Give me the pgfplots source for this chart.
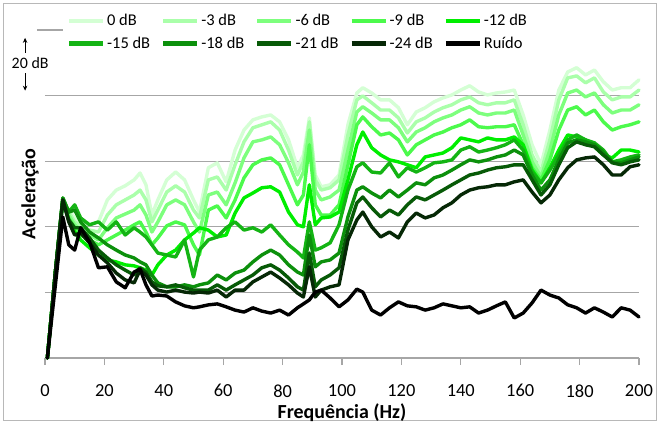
\documentclass[border=0pt]{standalone}
\usepackage{fontspec}
\setmainfont{Carlito}
\usepackage{pgfplots}
\usepackage{pgfplotstable}
\pgfplotsset{compat=1.18}
\usetikzlibrary{arrows.meta}

\definecolor{g0}{HTML}{D4FFD4}
\definecolor{g3}{HTML}{AAFFAA}
\definecolor{g6}{HTML}{7DFF7D}
\definecolor{g9}{HTML}{4CFA4C}
\definecolor{g12}{HTML}{00EE00}
\definecolor{g15}{HTML}{14B414}
\definecolor{g18}{HTML}{0C900C}
\definecolor{g21}{HTML}{075A07}
\definecolor{g24}{HTML}{062806}
\definecolor{gridgray}{HTML}{A6A6A6}

% acceleration level (dB) per excitation level
\pgfplotstableread{
f    a0   a3   a6   a9   a12  a15  a18  a21  a24  r
0.8  0    0    0    0    0    0    0    0    0    0
3.5  26.2 26.2 26.2 26.2 26.2 26.2 26.2 26.2 26.2 22.3
6    48.2 48.2 48.2 48.2 48.2 48.8 48.8 48.2 48.2 43.0
8    45.1 44.5 43.6 42.7 42.1 44.5 44.5 42.1 41.5 34.5
10   42.7 41.5 40.6 39.7 38.4 46.7 45.1 39.7 37.5 32.9
12   41.5 40.3 39.0 37.5 36.0 42.7 41.5 39.7 38.1 39.7
15   40.6 39.0 37.5 36.0 33.6 40.6 38.4 36.6 35.1 35.4
18   41.5 38.4 36.0 34.5 31.4 41.5 36.6 32.9 31.4 27.5
21   48.2 43.6 39.7 36.0 29.9 39.0 34.5 30.5 29.0 27.8
24   51.2 46.7 42.7 37.5 29.3 41.5 32.9 28.4 25.9 23.2
27   52.5 48.2 43.9 39.0 28.4 37.5 31.4 26.8 23.8 21.4
30   54.3 49.7 45.1 40.6 28.1 39.7 30.5 25.3 22.9 26.2
32   56.4 51.2 46.7 41.5 27.5 38.4 29.3 27.5 26.8 27.1
34   52.8 48.2 43.6 38.4 26.8 36.9 28.4 26.2 25.3 22.3
36   43.6 41.5 38.4 34.5 25.3 34.5 25.3 23.2 22.3 18.9
38   48.2 45.1 41.5 36.6 28.4 32.0 22.9 22.0 20.7 19.2
41   54.3 50.6 46.7 40.3 31.4 31.4 21.7 21.7 20.1 18.9
44   56.7 52.5 48.2 41.5 32.9 30.8 21.7 22.3 20.7 17.1
47   54.3 50.6 46.7 40.6 36.0 36.0 22.3 21.4 20.1 15.9
50   48.2 45.1 41.5 34.5 38.1 24.7 21.7 20.7 19.8 15.3
52   44.5 42.7 38.4 31.4 39.7 32.9 22.3 20.7 20.1 15.6
55   58.0 54.3 49.7 45.1 39.0 36.0 22.9 20.7 19.8 16.2
58   59.5 55.2 50.6 46.4 36.9 36.9 25.3 22.3 20.7 16.5
61   53.7 51.2 46.7 42.7 37.5 39.7 23.8 20.7 18.6 15.6
64   63.4 58.9 53.4 48.2 44.2 41.5 25.9 22.3 20.7 14.6
67   69.5 65.9 61.0 54.9 48.8 39.0 26.8 23.8 20.7 14.0
70   72.6 70.2 65.9 58.9 50.3 39.7 29.3 25.3 23.2 15.3
73   73.5 71.1 66.5 60.4 51.9 38.4 31.4 27.5 24.7 14.3
76   74.1 72.0 67.4 61.0 52.2 40.6 32.9 28.4 26.2 13.7
79   72.0 69.5 65.0 58.9 50.6 37.5 31.4 26.8 24.4 14.6
82   66.5 63.4 59.5 52.8 44.5 34.5 28.4 24.4 22.3 13.1
85   58.0 55.8 52.8 46.7 40.6 32.3 26.2 21.7 19.8 15.3
87   61.9 59.8 56.7 49.7 40.0 30.5 25.3 20.7 18.6 16.5
89   73.2 72.0 69.5 65.0 52.8 41.5 37.5 32.0 27.8 17.7
91   55.8 54.3 51.2 46.7 40.6 32.9 27.8 21.7 18.6 20.1
93   52.2 51.2 48.2 43.6 42.7 33.6 29.3 23.8 20.7 20.7
96   52.8 51.9 49.1 43.6 43.0 35.1 29.9 25.3 21.7 18.3
99   55.8 54.3 51.2 46.7 44.5 40.6 32.0 27.5 22.3 15.6
102  71.1 68.0 63.4 58.9 54.3 51.2 43.0 39.0 36.0 17.7
105  80.8 78.7 75.0 71.1 65.0 58.3 51.2 47.3 42.1 21.0
107  82.4 79.9 76.6 73.5 68.9 59.5 52.2 49.1 44.5 20.1
110  80.8 77.8 74.7 70.5 64.1 56.7 50.3 45.8 40.0 14.6
113  78.7 75.6 72.6 68.0 61.9 56.4 48.8 43.0 36.9 13.1
116  78.7 75.6 72.6 68.6 60.4 59.5 51.2 45.1 38.4 15.3
119  76.3 73.2 70.2 66.5 59.8 55.2 49.1 43.6 36.6 17.1
122  71.1 68.6 65.9 61.9 58.9 58.0 51.2 46.7 41.5 15.9
125  75.0 72.0 68.9 65.0 58.0 56.7 53.4 49.1 44.2 15.6
128  76.3 73.2 70.2 66.5 61.3 58.0 52.8 48.2 42.7 14.6
131  78.1 75.0 72.0 68.0 61.9 59.5 54.9 49.7 43.6 15.3
134  79.3 76.3 73.2 68.9 62.5 59.8 55.8 51.2 45.8 16.5
137  80.2 77.2 74.1 70.2 64.1 60.4 57.3 52.8 47.3 15.9
140  81.7 78.7 75.6 71.1 67.1 63.4 58.9 54.3 49.7 15.3
143  83.0 79.6 76.6 72.6 66.5 64.4 60.4 55.8 51.2 15.6
146  81.1 77.8 74.7 70.5 65.9 62.8 59.8 56.4 51.9 13.7
149  80.2 77.2 74.1 70.2 67.1 63.4 60.4 57.3 52.2 14.6
152  80.8 77.8 74.7 70.5 66.5 64.1 61.3 58.0 52.8 15.9
155  81.1 77.8 74.7 70.5 66.5 65.0 61.9 58.3 52.8 17.1
158  81.7 78.7 75.6 71.1 67.4 66.5 63.4 58.9 53.7 12.2
161  74.1 71.1 68.0 65.0 65.0 63.4 61.9 58.9 54.3 13.7
164  65.0 61.9 59.8 58.0 57.3 56.7 55.8 54.3 50.6 16.8
167  58.9 56.7 55.2 54.3 53.4 53.4 51.2 49.7 47.3 20.7
170  69.5 66.5 63.4 60.4 58.0 57.3 54.3 52.8 49.7 19.2
173  81.7 78.7 74.1 69.5 63.4 61.9 60.4 58.9 54.3 18.3
176  87.2 85.4 80.8 75.6 68.0 66.5 65.6 64.1 58.0 16.2
179  88.5 86.0 81.7 76.6 67.4 68.0 66.5 65.9 60.4 15.3
182  86.3 83.9 79.6 74.1 66.5 66.5 65.9 65.0 61.0 13.7
185  87.8 85.4 80.8 75.6 64.4 65.6 65.0 64.4 61.3 15.3
188  84.2 81.1 77.2 72.0 61.9 63.4 62.8 61.9 58.9 14.0
191  81.7 78.7 74.7 69.5 61.0 59.8 59.8 59.5 55.8 12.5
194  82.4 79.6 75.6 70.5 63.4 60.4 59.5 58.9 55.8 15.3
197  82.4 79.6 75.6 71.1 63.4 61.3 60.4 59.8 58.3 14.6
200  84.8 81.7 77.2 72.0 62.8 61.9 61.3 60.4 58.9 12.5
}\accel

\begin{document}
\begin{tikzpicture}
\useasboundingbox (-45bp,-66bp) rectangle (615bp,358bp);
\draw[gridgray!80, line width=1bp] (-41bp,-62bp) rectangle (611bp,354bp);
\begin{axis}[
  scale only axis, width=594bp, height=328bp,
  xmin=0, xmax=200, ymin=0, ymax=100,
  clip=false,
  axis x line*=bottom, axis y line*=left,
  axis line style={-},
  x axis line style={draw=gridgray, line width=1.2bp},
  y axis line style={draw=none},
  xtick={0,20,...,200},
  ytick={20,40,60,80}, yticklabels={},
  ytick style={draw=none},
  xtick style={draw=gridgray, line width=1.2bp},
  tick align=outside, major tick length=7bp,
  ymajorgrids, grid style={gridgray, line width=1.2bp},
  /pgf/number format/assume math mode=true,
  xticklabel style={font=\fontsize{18.5}{20}\selectfont, yshift=-16bp},
  xlabel={Frequência (Hz)}, ylabel={Aceleração},
  label style={font=\bfseries\fontsize{20}{22}\selectfont},
  xlabel style={at={(axis description cs:0.5,0)}, anchor=center, yshift=-55bp},
  ylabel style={at={(axis description cs:-0.0253,0.5)}, anchor=center},
  every axis plot/.append style={line width=3.4bp, line join=round, line cap=round},
  legend columns=5,
  legend cell align=left,
  legend image code/.code={\draw[#1, line width=4.2bp, line cap=butt] (0bp,0bp) -- (34bp,0bp);},
  legend style={at={(rel axis cs:0.035,1.058)}, anchor=north west,
    draw=none, fill=white, inner sep=1bp,
    font=\fontsize{16.5}{18}\selectfont,
    /tikz/row sep=6bp,
    /tikz/every even column/.append style={column sep=9bp}},
]
  \addplot[g0]  table[x=f, y=a0]  {\accel}; \addlegendentry{0 dB}
  \addplot[g3]  table[x=f, y=a3]  {\accel}; \addlegendentry{-3 dB}
  \addplot[g6]  table[x=f, y=a6]  {\accel}; \addlegendentry{-6 dB}
  \addplot[g9]  table[x=f, y=a9]  {\accel}; \addlegendentry{-9 dB}
  \addplot[g12] table[x=f, y=a12] {\accel}; \addlegendentry{-12 dB}
  \addplot[g15] table[x=f, y=a15] {\accel}; \addlegendentry{-15 dB}
  \addplot[g18] table[x=f, y=a18] {\accel}; \addlegendentry{-18 dB}
  \addplot[g21] table[x=f, y=a21] {\accel}; \addlegendentry{-21 dB}
  \addplot[g24] table[x=f, y=a24] {\accel}; \addlegendentry{-24 dB}
  \addplot[black] table[x=f, y=r] {\accel}; \addlegendentry{Ruído}

  % 20 dB scale marker
  \draw[gridgray, line width=1.2bp] (axis cs:-2.7,100) -- (axis cs:6.1,100);
  \draw[-{Stealth[length=5bp,width=4.5bp]}, line width=1bp] (axis cs:-6.7,93.0) -- (axis cs:-6.7,97.6);
  \draw[-{Stealth[length=5bp,width=4.5bp]}, line width=1bp] (axis cs:-6.7,86.8) -- (axis cs:-6.7,81.5);
  \node[font=\fontsize{16}{18}\selectfont] at (axis cs:-5.0,90.0) {20 dB};
\end{axis}
\end{tikzpicture}
\end{document}
